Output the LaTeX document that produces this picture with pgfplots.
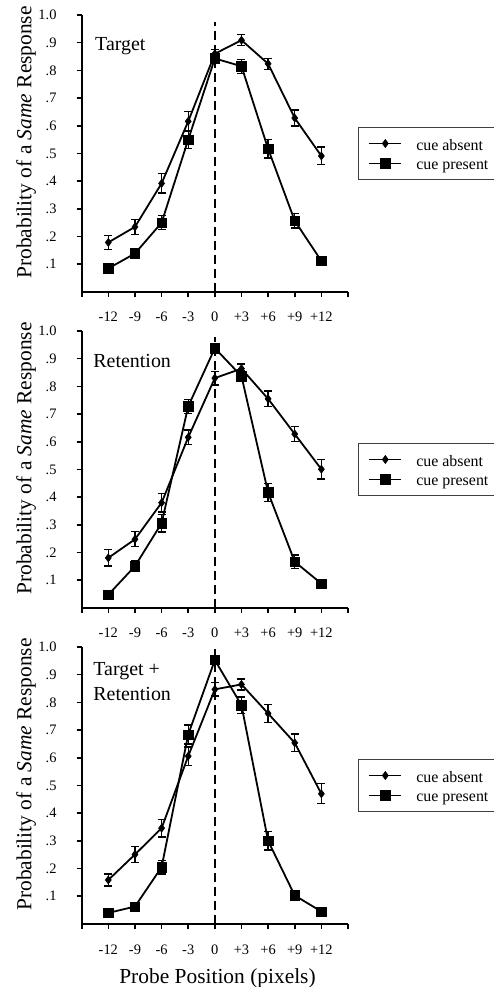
\documentclass[border=0pt]{standalone}
\usepackage{fontspec}
\setmainfont{Liberation Serif}
\usepackage{pgfplots}
\pgfplotsset{compat=1.18}
\newcommand\legtxt[1]{\makebox[80bp][l]{\rule[-4.5bp]{0pt}{19bp}#1}}

\pgfplotsset{
  legend image code/.code={\draw[mark repeat=2,mark phase=2,#1] plot coordinates {(0bp,0bp) (16bp,0bp) (32bp,0bp)};},
  panel/.style={
    width=266.3bp, height=277bp, scale only axis,
    xmin=-15, xmax=15, ymin=0, ymax=1,
    clip=false,
    axis lines=left, axis line style={-, line width=2.2bp},
    xtick={-15,-12,-9,-6,-3,0,3,6,9,12,15},
    xticklabels={,-12,-9,-6,-3,0,+3,+6,+9,+12,},
    ytick={0.1,0.2,0.3,0.4,0.5,0.6,0.7,0.8,0.9,1.0},
    yticklabels={.1,.2,.3,.4,.5,.6,.7,.8,.9,1.0},
    tick align=outside, major tick length=5bp,
    tick style={line width=1.6bp, black},
    ticklabel style={font=\fontsize{14.5}{14.5}\selectfont},
    yticklabel style={anchor=east, inner sep=0pt, xshift=-20bp},
    xticklabel style={anchor=base, inner sep=0pt, yshift=-25bp},
    ylabel={Probability of a \textit{Same} Response},
    ylabel style={at={(axis description cs:-0.209,0.54)}, anchor=center, font=\fontsize{21.5}{21.5}\selectfont},
    legend cell align=left,
    legend style={at={(axis description cs:1.0376,0.5)}, anchor=west,
      draw=black!75, line width=0.9bp, fill=white,
      inner xsep=10bp, inner ysep=6bp,
      font=\fontsize{16}{16}\selectfont,
      column sep=12bp, row sep=0bp},
  },
  absent/.style={black, line width=1.8bp, mark=diamond*, mark size=4bp,
    mark options={solid, line width=0.6bp},
    error bars/.cd, y dir=both, y explicit,
    error bar style={line width=1.3bp, solid},
    error mark options={rotate=90, mark size=4bp, line width=1.3bp}},
  present/.style={black, line width=1.8bp, mark=square*, mark size=4.7bp,
    mark options={solid, line width=0.6bp},
    error bars/.cd, y dir=both, y explicit,
    error bar style={line width=1.3bp, solid},
    error mark options={rotate=90, mark size=4bp, line width=1.3bp}},
  zeroline/.style={black, line width=1.6bp, dash pattern=on 9bp off 5bp, forget plot},
}

\begin{document}
\begin{tikzpicture}
\useasboundingbox (0,0) rectangle (494bp,987bp);

% ---------------- Panel 1: Target
\begin{axis}[panel, at={(81.7bp,695bp)}, anchor=south west]
\addplot[zeroline] coordinates {(0,0) (0,0.975)};
\addplot[absent] coordinates {
  (-12,0.179) +- (0,0.026)
  (-9,0.235)  +- (0,0.027)
  (-6,0.392)  +- (0,0.035)
  (-3,0.616)  +- (0,0.036)
  (0,0.860)   +- (0,0.015)
  (3,0.909)   +- (0,0.020)
  (6,0.824)   +- (0,0.020)
  (9,0.628)   +- (0,0.029)
  (12,0.491)  +- (0,0.032)
};
\addplot[present] coordinates {
  (-12,0.085) +- (0,0.010)
  (-9,0.139)  +- (0,0.012)
  (-6,0.250)  +- (0,0.025)
  (-3,0.550)  +- (0,0.032)
  (0,0.843)   +- (0,0.018)
  (3,0.815)   +- (0,0.025)
  (6,0.517)   +- (0,0.033)
  (9,0.257)   +- (0,0.026)
  (12,0.112)  +- (0,0.012)
};
\legend{\legtxt{cue absent},\legtxt{cue present}}
\node[anchor=base west, inner sep=0pt, font=\fontsize{20}{20}\selectfont] at (axis cs:-13.5,0.873) {Target};
\end{axis}

% ---------------- Panel 2: Retention
\begin{axis}[panel, at={(81.7bp,379bp)}, anchor=south west]
\addplot[zeroline] coordinates {(0,0) (0,0.98)};
\addplot[absent] coordinates {
  (-12,0.181) +- (0,0.029)
  (-9,0.248)  +- (0,0.027)
  (-6,0.380)  +- (0,0.033)
  (-3,0.616)  +- (0,0.027)
  (0,0.830)   +- (0,0.025)
  (3,0.864)   +- (0,0.017)
  (6,0.755)   +- (0,0.028)
  (9,0.628)   +- (0,0.027)
  (12,0.501)  +- (0,0.035)
};
\addplot[present] coordinates {
  (-12,0.048) +- (0,0.008)
  (-9,0.151)  +- (0,0.020)
  (-6,0.306)  +- (0,0.032)
  (-3,0.728)  +- (0,0.025)
  (0,0.938)   +- (0,0.010)
  (3,0.837)   +- (0,0.020)
  (6,0.417)   +- (0,0.032)
  (9,0.167)   +- (0,0.024)
  (12,0.088)  +- (0,0.008)
};
\legend{\legtxt{cue absent},\legtxt{cue present}}
\node[anchor=base west, inner sep=0pt, font=\fontsize{20}{20}\selectfont] at (axis cs:-13.7,0.868) {Retention};
\end{axis}

% ---------------- Panel 3: Target + Retention
\begin{axis}[panel, at={(81.7bp,63bp)}, anchor=south west,
  xlabel={Probe Position (pixels)},
  xlabel style={at={(axis description cs:0.51,-0.2133)}, anchor=base, font=\fontsize{21.5}{21.5}\selectfont}]
\addplot[zeroline] coordinates {(0,0) (0,1)};
\addplot[absent] coordinates {
  (-12,0.159) +- (0,0.022)
  (-9,0.251)  +- (0,0.028)
  (-6,0.346)  +- (0,0.032)
  (-3,0.606)  +- (0,0.033)
  (0,0.847)   +- (0,0.024)
  (3,0.865)   +- (0,0.020)
  (6,0.760)   +- (0,0.032)
  (9,0.654)   +- (0,0.032)
  (12,0.470)  +- (0,0.036)
};
\addplot[present] coordinates {
  (-12,0.040) +- (0,0.008)
  (-9,0.063)  +- (0,0.010)
  (-6,0.205)  +- (0,0.024)
  (-3,0.684)  +- (0,0.034)
  (0,0.953)   +- (0,0.010)
  (3,0.790)   +- (0,0.030)
  (6,0.300)   +- (0,0.033)
  (9,0.103)   +- (0,0.015)
  (12,0.045)  +- (0,0.008)
};
\legend{\legtxt{cue absent},\legtxt{cue present}}
\node[anchor=base west, inner sep=0pt, font=\fontsize{20}{20}\selectfont] at (axis cs:-13.7,0.896) {Target +};
\node[anchor=base west, inner sep=0pt, font=\fontsize{20}{20}\selectfont] at (axis cs:-13.7,0.806) {Retention};
\end{axis}
\end{tikzpicture}
\end{document}
